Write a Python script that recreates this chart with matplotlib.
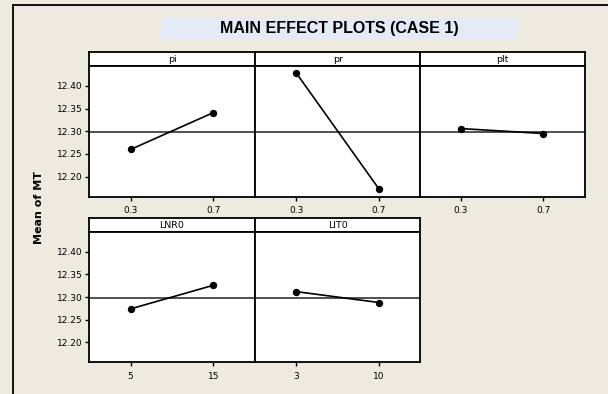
import matplotlib
matplotlib.use('Agg')
import matplotlib.pyplot as plt
from matplotlib.lines import Line2D
from matplotlib.patches import Rectangle

# main effects data
factors = ['pi', 'pr', 'plt', 'LNR0', 'LIT0']
levels = [['0.3', '0.7'], ['0.3', '0.7'], ['0.3', '0.7'], ['5', '15'], ['3', '10']]
means = [[12.260, 12.341],
         [12.428, 12.173],
         [12.306, 12.295],
         [12.274, 12.326],
         [12.312, 12.288]]
grand_mean = 12.299
y_ticks = [12.20, 12.25, 12.30, 12.35, 12.40]
y_tick_labels = ['12.20', '12.25', '12.30', '12.35', '12.40']

W, H = 608, 394
bg = '#EEEAE0'

fig = plt.figure(figsize=(W / 100, H / 100), dpi=100, facecolor=bg)


def fx(px):
    return px / W


def fy(py):
    return 1 - py / H


# outer frame (only left and top visible)
fig.add_artist(Line2D([fx(12.7), fx(12.7)], [fy(4.7), 0], transform=fig.transFigure,
                      color='black', lw=1.3))
fig.add_artist(Line2D([fx(12.7), 1], [fy(4.7), fy(4.7)], transform=fig.transFigure,
                      color='black', lw=1.3))

# title box
fig.add_artist(Rectangle((fx(160), fy(39.3)), fx(517.3) - fx(160), fy(17.3) - fy(39.3),
                         transform=fig.transFigure, facecolor='#E4EBF6', edgecolor='none'))
fig.text(fx(339), fy(28.5), 'MAIN EFFECT PLOTS (CASE 1)', ha='center', va='center',
         fontsize=11.5, fontweight='bold', family='Liberation Sans')

# y label
fig.text(fx(39), fy(208), 'Mean of MT', rotation=90, ha='center', va='center',
         fontsize=8, fontweight='bold')

panel_x = [89.3, 255, 419.5]
panel_w = 165.3
rows = [(52.3, 66.3, 196.7), (218.3, 232.3, 362.3)]  # strip top, plot top, plot bottom
ylim = (12.156, 12.443)

for i, name in enumerate(factors):
    r, c = divmod(i, 3)
    s_top, p_top, p_bot = rows[r]
    x0 = panel_x[c]

    # strip header
    sax = fig.add_axes([fx(x0), fy(p_top), fx(panel_w), fy(s_top) - fy(p_top)])
    sax.set_xticks([])
    sax.set_yticks([])
    sax.set_facecolor('white')
    for sp in sax.spines.values():
        sp.set_linewidth(1.3)
    sax.text(0.5, 0.45, name, ha='center', va='center', fontsize=6.8, transform=sax.transAxes)

    ax = fig.add_axes([fx(x0), fy(p_bot), fx(panel_w), fy(p_top) - fy(p_bot)])
    ax.set_facecolor('white')
    for sp in ax.spines.values():
        sp.set_linewidth(1.3)
    ax.axhline(grand_mean, color='#505050', lw=1.4, zorder=1)
    ax.plot([0, 1], means[i], color='black', lw=1.2, marker='o', markersize=4.3, zorder=3)
    ax.set_xlim(-0.5, 1.5)
    ax.set_ylim(*ylim)
    ax.set_xticks([0, 1])
    ax.set_xticklabels(levels[i], fontsize=6.5)
    ax.tick_params(axis='x', length=3, width=1, pad=4)
    if c == 0:
        ax.set_yticks(y_ticks)
        ax.set_yticklabels(y_tick_labels, fontsize=6.5)
        ax.tick_params(axis='y', length=3, width=1, pad=2)
    else:
        ax.set_yticks([])

fig.savefig('out.png', dpi=100, facecolor=bg)
